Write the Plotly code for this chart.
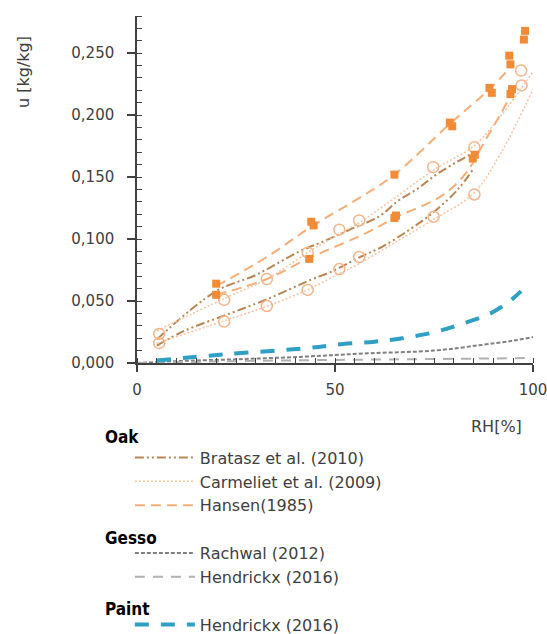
import plotly.graph_objects as go

# ---------------- data ----------------
# Oak - Bratasz et al. (2010): two fitted curves
bratasz_up_x = [5, 20, 30, 41, 47, 54, 61, 66, 71, 76, 84]
bratasz_up_y = [0.019, 0.058, 0.071, 0.090, 0.098, 0.108, 0.118, 0.131, 0.141, 0.153, 0.168]
bratasz_lo_x = [5, 12, 23.5, 34, 43, 50, 56, 62, 69, 75, 81, 85]
bratasz_lo_y = [0.014, 0.026, 0.040, 0.053, 0.066, 0.075, 0.085, 0.094, 0.108, 0.122, 0.140, 0.157]

# Oak - Carmeliet et al. (2009): two fitted curves + measured points
carm_up_x = [5, 22, 33, 43, 51, 56, 65, 75, 85, 92, 100]
carm_up_y = [0.026, 0.052, 0.068, 0.089, 0.104, 0.113, 0.133, 0.156, 0.175, 0.200, 0.235]
carm_lo_x = [5, 22, 33, 43, 51, 56, 65, 75, 85, 92, 100]
carm_lo_y = [0.016, 0.034, 0.046, 0.059, 0.072, 0.080, 0.097, 0.116, 0.137, 0.170, 0.221]
carm_pts_up_x = [5.6, 22, 32.8, 43.1, 51.1, 56.1, 74.8, 85.2, 97]
carm_pts_up_y = [0.0235, 0.051, 0.0677, 0.089, 0.1076, 0.115, 0.158, 0.174, 0.236]
carm_pts_lo_x = [5.6, 22, 32.8, 43.1, 51.1, 56.1, 74.9, 85.2, 97.1]
carm_pts_lo_y = [0.016, 0.0334, 0.046, 0.059, 0.0758, 0.0855, 0.118, 0.136, 0.224]

# Oak - Hansen (1985): two fitted curves + measured points
hansen_up_x = [20, 33, 44, 55, 65, 79, 89, 95]
hansen_up_y = [0.062, 0.086, 0.110, 0.131, 0.152, 0.193, 0.221, 0.241]
hansen_lo_x = [20, 33, 43, 58, 65, 77, 83, 88, 92, 95]
hansen_lo_y = [0.055, 0.068, 0.084, 0.105, 0.117, 0.135, 0.153, 0.180, 0.202, 0.220]
hansen_pts_up_x = [20, 44, 44.6, 65, 79, 79.6, 89, 89.6, 94, 94.3, 97.7, 98]
hansen_pts_up_y = [0.064, 0.114, 0.111, 0.152, 0.194, 0.191, 0.222, 0.218, 0.248, 0.241, 0.261, 0.268]
hansen_pts_lo_x = [20, 43.5, 65, 65.4, 84.8, 85.3, 94.3, 94.7]
hansen_pts_lo_y = [0.055, 0.084, 0.117, 0.119, 0.165, 0.168, 0.217, 0.221]

# Gesso
rachwal_x = [0, 10, 25, 42, 58, 75, 87, 95, 100]
rachwal_y = [0.0, 0.0015, 0.003, 0.0051, 0.0078, 0.0100, 0.0146, 0.018, 0.021]
hendrickx_g_x = [0, 25, 50, 75, 100]
hendrickx_g_y = [0.0, 0.0015, 0.0025, 0.0032, 0.004]

# Paint
hendrickx_p_x = [5, 22, 43, 52, 60, 67, 75, 82, 89, 94, 97]
hendrickx_p_y = [0.002, 0.007, 0.012, 0.0154, 0.0172, 0.020, 0.0248, 0.0316, 0.0396, 0.0496, 0.058]

y_ticks = [0, 0.05, 0.10, 0.15, 0.20, 0.25]
x_ticks = [0, 50, 100]
group_titles = ["Oak", "Gesso", "Paint"]

# ---------------- styles ----------------
BROWN = "#B98552"
PEACH = "#F7C3A0"
ORANGE_LINE = "#F5AE78"
ORANGE_MARK = "#F28B35"
CIRCLE = "#F6B48A"
DGREY = "#808080"
LGREY = "#B0B0B0"
BLUE = "#2FA0C4"
TXT = "#404040"
FONT = "DejaVu Sans"
GT_FONT = dict(family="DejaVu Sans Condensed", size=17, color="black", weight="bold")
PLACEHOLDER = "\u00a0"

fig = go.Figure()

def line(x, y, name, color, width, dash, group, gtitle=False, show=True):
    fig.add_trace(go.Scatter(
        x=x, y=y, mode="lines", name=name, line=dict(color=color, width=width, dash=dash, shape="spline"),
        legendgroup=group, showlegend=show,
        legendgrouptitle=dict(text=PLACEHOLDER, font=dict(size=12)) if gtitle else None,
        hoverinfo="skip"))

bratasz_dash = "9px,3px,2px,3px,2px,3px"
line(bratasz_up_x, bratasz_up_y, "Bratasz et al. (2010)", BROWN, 2, bratasz_dash, "oak", True)
line(bratasz_lo_x, bratasz_lo_y, "Bratasz et al. (2010)", BROWN, 2, bratasz_dash, "oak", show=False)
line(carm_up_x, carm_up_y, "Carmeliet et al. (2009)", PEACH, 1.5, "2px,2px", "oak")
line(carm_lo_x, carm_lo_y, "Carmeliet et al. (2009)", PEACH, 1.5, "2px,2px", "oak", show=False)
line(hansen_up_x, hansen_up_y, "Hansen(1985)", ORANGE_LINE, 2, "10px,6px", "oak")
line(hansen_lo_x, hansen_lo_y, "Hansen(1985)", ORANGE_LINE, 2, "10px,6px", "oak", show=False)

for px, py in [(carm_pts_up_x, carm_pts_up_y), (carm_pts_lo_x, carm_pts_lo_y)]:
    fig.add_trace(go.Scatter(x=px, y=py, mode="markers", showlegend=False, legendgroup="oak",
                             marker=dict(symbol="circle-open", size=11, color=CIRCLE, line=dict(width=1.5, color=CIRCLE)),
                             hoverinfo="skip"))
for px, py in [(hansen_pts_up_x, hansen_pts_up_y), (hansen_pts_lo_x, hansen_pts_lo_y)]:
    fig.add_trace(go.Scatter(x=px, y=py, mode="markers", showlegend=False, legendgroup="oak",
                             marker=dict(symbol="square", size=8, color=ORANGE_MARK),
                             hoverinfo="skip"))

line(rachwal_x, rachwal_y, "Rachwal (2012)", DGREY, 2, "4px,2px", "gesso", True)
line(hendrickx_g_x, hendrickx_g_y, "Hendrickx (2016)", LGREY, 2, "10px,8px", "gesso")
line(hendrickx_p_x, hendrickx_p_y, "Hendrickx (2016)", BLUE, 4, "14px,12px", "paint", True)

title_y = [-0.213, -0.504, -0.709]
annotations = [
    dict(text="u [kg/kg]", xref="paper", yref="paper", x=-0.285, y=0.839, textangle=-90,
         xanchor="center", yanchor="middle",
         showarrow=False, font=dict(family=FONT, size=16, color=TXT)),
    dict(text="RH[%]", xref="paper", yref="paper", x=0.909, y=-0.184, xanchor="center", yanchor="middle",
         showarrow=False, font=dict(family=FONT, size=16, color=TXT)),
]
for t, ty in zip(group_titles, title_y):
    annotations.append(dict(text=t, xref="paper", yref="paper", x=-0.086, y=ty, xanchor="left",
                            yanchor="middle", showarrow=False, font=GT_FONT))

fig.update_layout(
    width=547, height=634,
    margin=dict(l=137, r=14, t=16, b=271, autoexpand=False),
    paper_bgcolor="white", plot_bgcolor="white",
    separators=", ",
    font=dict(family=FONT, size=15, color=TXT),
    showlegend=True,
    legend=dict(x=-0.018, xanchor="left", y=-0.169, yanchor="top", orientation="v",
                font=dict(family=FONT, size=16, color=TXT), itemwidth=60,
                tracegroupgap=5, traceorder="grouped", bgcolor="rgba(0,0,0,0)"),
    xaxis=dict(range=[0, 100], tickvals=x_ticks, ticktext=[str(v) for v in x_ticks],
               showline=True, linecolor=TXT, linewidth=1.5, showgrid=False, zeroline=False,
               ticks="outside", ticklen=7, tickwidth=1.5, tickcolor=TXT, ticklabelstandoff=5,
               ticklabeloverflow="allow",
               minor=dict(dtick=5, ticks="inside", ticklen=5, tickwidth=1, tickcolor=TXT),
               tickfont=dict(family=FONT, size=15, color=TXT)),
    yaxis=dict(range=[0, 0.28], tickvals=y_ticks, tickformat=".3f",
               showline=True, linecolor=TXT, linewidth=1.5, showgrid=False, zeroline=False,
               ticks="outside", ticklen=8, tickwidth=1.5, tickcolor=TXT, ticklabelstandoff=10,
               ticklabeloverflow="allow",
               minor=dict(dtick=0.01, ticks="inside", ticklen=5, tickwidth=1, tickcolor=TXT),
               tickfont=dict(family=FONT, size=15, color=TXT)),
    annotations=annotations,
)

fig.write_html("out.html")
